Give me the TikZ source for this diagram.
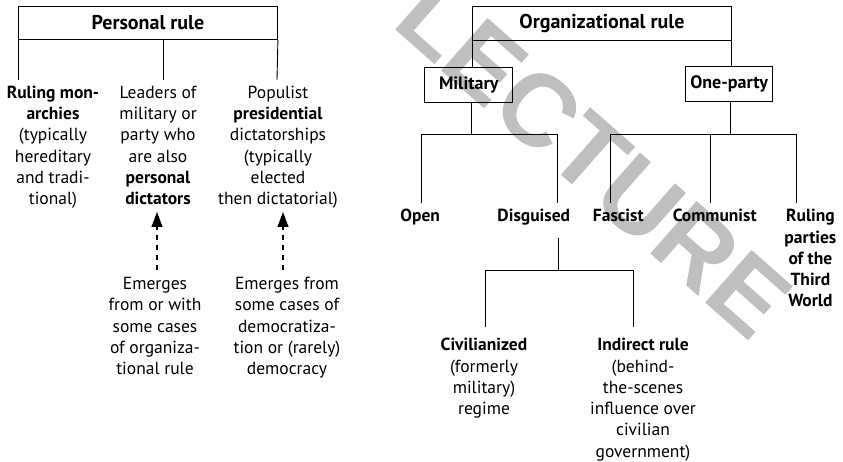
\documentclass[tikz,border=0pt]{standalone}
\usepackage{fontspec}
\setmainfont{PT Sans}
\newfontfamily\wmfont{Liberation Sans}
\usetikzlibrary{arrows.meta}
\begin{document}
\begin{tikzpicture}[x=1pt,y=-1pt,line width=0.9pt,
  body/.style={font=\fontsize{17.5}{21.3}\selectfont, align=center, inner sep=0pt, anchor=base},
  lab/.style={body, font=\fontsize{17.5}{21.3}\selectfont\bfseries},
  box/.style={draw, inner sep=0pt, anchor=north west, font=\fontsize{18}{21}\selectfont\bfseries},
  titlebox/.style={box, font=\fontsize{20}{24}\selectfont\bfseries},
  emarrow/.style={line width=1.2pt, dash pattern=on 5pt off 5pt, -{Triangle[length=15pt,width=11pt]}},
  watermark/.style={font=\wmfont\bfseries\fontsize{102}{102}\selectfont, text=black!25, inner sep=0pt}]
\useasboundingbox (0,0) rectangle (843,462);
% watermark
\node[watermark, rotate=-41.4] (wm) at (594,158) {LECTURE};

% ---------------- Personal rule ----------------
\node[titlebox, minimum width=259pt, minimum height=33pt] (pr) at (18,6) {Personal rule};
\coordinate (pl) at (18,80);
\coordinate (pm) at (163,80);
\coordinate (pr3) at (277,80);
\draw (pr.south west) -- (pl);
\draw (pm |- pr.south) -- (pm);
\draw (pr.south east) -- (pr3);

% multi-line nodes: base anchor = baseline of the last line
\node[body] (mon) at (53,204.8) {\textbf{Ruling mon-}\\\textbf{archies}\\(typically\\hereditary\\and tradi-\\tional)};
\node[body] (lead) at (158,204.8) {Leaders of\\military or\\party who\\are also\\\textbf{personal}\\\textbf{dictators}};
\node[body] (pop) at (278,204.8) {Populist\\\textbf{presidential}\\dictatorships\\(typically\\elected\\then dictatorial)};

\node[body] (em1) at (155,374.7) {Emerges\\from or with\\some cases\\of organiza-\\tional rule};
\node[body] (em2) at (287,374.7) {Emerges from\\some cases of\\democratiza-\\tion or (rarely)\\democracy};

\coordinate (a1s) at (157,270);
\coordinate (a1e) at (157,212);
\coordinate (a2s) at (283,270);
\coordinate (a2e) at (283,212);
\draw[emarrow] (a1s) -- (a1e);
\draw[emarrow] (a2s) -- (a2e);

% ---------------- Organizational rule ----------------
\node[titlebox, minimum width=259pt, minimum height=33.5pt] (org) at (472,6.5) {Organizational rule};
\node[box, minimum width=88pt, minimum height=35pt] (mil) at (424.3,66.7) {Military};
\node[box, minimum width=87.3pt, minimum height=35pt] (one) at (685,66) {One-party};
\draw (org.south west) -- (org.south west |- mil.north);
\draw (org.south east) -- (org.south east |- one.north);

\coordinate (mj) at (471.7,134.3);
\coordinate (m1) at (421.7,134.3);
\coordinate (m2) at (557.3,134.3);
\coordinate (m1e) at (421.7,203.3);
\coordinate (m2e) at (557.3,203.3);
\draw (mj |- mil.south) -- (mj);
\draw (m1e) -- (m1) -- (m2) -- (m2e);

\coordinate (oj) at (730,134.3);
\coordinate (o1) at (610,134.3);
\coordinate (o2) at (710,134.3);
\coordinate (o3) at (796.7,134.3);
\coordinate (o1e) at (610,203.3);
\coordinate (o2e) at (710,203.3);
\coordinate (o3e) at (796.7,203.3);
\draw (oj |- one.south) -- (oj);
\draw (o1e) -- (o1) -- (o3) -- (o3e);
\draw (o2) -- (o2e);

\node[lab] (open) at (420.2,221.7) {Open};
\node[lab] (disg) at (533.8,221.7) {Disguised};
\node[lab] (fasc) at (618.3,221.7) {Fascist};
\node[lab] (comm) at (714.7,221.7) {Communist};
\node[lab] (third) at (810.4,306.9) {Ruling\\parties\\of the\\Third\\World};

\coordinate (d0) at (558,238.3);
\coordinate (d1) at (558,270.7);
\coordinate (c1) at (485,270.7);
\coordinate (c2) at (633.3,270.7);
\coordinate (c1e) at (485,327);
\coordinate (c2e) at (633.3,327);
\draw (d0) -- (d1);
\draw (c1e) -- (c1) -- (c2) -- (c2e);

\node[body] (civ) at (484,414.6) {\textbf{Civilianized}\\(formerly\\military)\\regime};
\node[body] (ind) at (643,457.2) {\textbf{Indirect rule}\\(behind-\\the-scenes\\influence over\\civilian\\government)};
\end{tikzpicture}
\end{document}
